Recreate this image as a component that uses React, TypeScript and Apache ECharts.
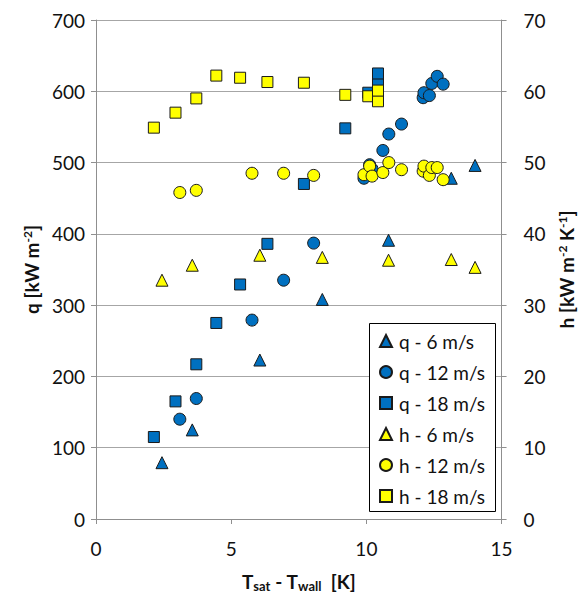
import React, { useEffect, useRef } from "react";
import * as echarts from "echarts";

// ---- data ----
const T6 = [2.44, 3.56, 6.06, 8.37, 10.82, 13.14, 14.02];
const q6 = [79, 125, 223, 308, 391, 478, 496];
const h6 = [33.5, 35.6, 37.0, 36.7, 36.3, 36.4, 35.3];

const T12 = [3.1, 3.71, 5.77, 6.94, 8.05, 9.91, 10.12, 10.21, 10.61, 10.83, 11.3, 12.1, 12.13, 12.33, 12.42, 12.62, 12.84];
const q12 = [140, 169, 279, 335, 387, 478, 497, 491, 517, 540, 554, 591, 598, 594, 611, 621, 610];
const h12 = [45.8, 46.1, 48.5, 48.5, 48.2, 48.3, 49.5, 48.1, 48.6, 50.0, 49.0, 48.8, 49.5, 48.2, 49.3, 49.3, 47.6];

const T18 = [2.14, 2.94, 3.71, 4.45, 5.33, 6.34, 7.69, 9.22, 10.07, 10.43, 10.43];
const q18 = [115, 165, 217, 275, 329, 386, 470, 548, 598, 610, 625];
const h18 = [54.9, 57.0, 59.0, 62.2, 61.9, 61.3, 61.2, 59.5, 59.3, 58.6, 60.1];

const seriesNames = ["q - 6 m/s", "q - 12 m/s", "q - 18 m/s", "h - 6 m/s", "h - 12 m/s", "h - 18 m/s"];
const xTicks = { min: 0, max: 15, interval: 5 };
const qTicks = { min: 0, max: 700, interval: 100 };
const hTicks = { min: 0, max: 70, interval: 10 };

const BLUE = "#0070C0";
const YELLOW = "#FFFF00";
const EDGE = "#1a1a1a";
const FONT = "Lato";

const pairs = (xs: number[], ys: number[]) => xs.map((x, i) => [x, ys[i]]);

export default function App() {
  const ref = useRef<HTMLDivElement>(null);
  useEffect(() => {
    if (!ref.current) return;
    const chart = echarts.init(ref.current, null, { renderer: "svg" });
    const mk = (name: string, xs: number[], ys: number[], symbol: string, size: number, color: string, yAxisIndex: number) => ({
      name,
      type: "scatter",
      yAxisIndex,
      symbol,
      symbolSize: size,
      data: pairs(xs, ys),
      itemStyle: { color, borderColor: EDGE, borderWidth: 1, opacity: 1 },
      emphasis: { disabled: true },
    });
    const axisLine = { show: true, lineStyle: { color: "#8f8f8f", width: 1 } };
    const axisTick = { show: true, length: 5, lineStyle: { color: "#8f8f8f" } };
    const labelStyle = { fontFamily: FONT, fontSize: 19, color: "#111" };
    const titleRich = {
      b: { fontFamily: FONT, fontSize: 19, fontWeight: "bold", color: "#111" },
      sup: { fontFamily: FONT, fontSize: 12, fontWeight: "bold", color: "#111", verticalAlign: "top", padding: [0, 0, 8, 0] },
      sub: { fontFamily: FONT, fontSize: 13, fontWeight: "bold", color: "#111", verticalAlign: "bottom", padding: [8, 0, 0, 0] },
    };
    chart.setOption({
      animation: false,
      grid: { left: 96, right: 76, top: 20, bottom: 77, containLabel: false },
      xAxis: {
        type: "value",
        ...xTicks,
        name: "{b|T}{sub|sat}{b| - T}{sub|wall}{b|  [K]}",
        nameLocation: "middle",
        nameGap: 52,
        nameTextStyle: { rich: titleRich },
        axisLine,
        axisTick,
        splitLine: { show: false },
        axisLabel: { ...labelStyle, margin: 20 },
      },
      yAxis: [
        {
          type: "value",
          position: "left",
          ...qTicks,
          name: "{b|q [kW m}{sup|-2}{b|]}",
          nameLocation: "middle",
          nameGap: 55,
          nameTextStyle: { rich: titleRich },
          axisLine,
          axisTick,
          splitLine: { show: true, lineStyle: { color: "#a6a6a6", width: 1 } },
          axisLabel: { ...labelStyle, margin: 11 },
        },
        {
          type: "value",
          position: "right",
          ...hTicks,
          name: "{b|h [kW m}{sup|-2}{b| K}{sup|-1}{b|]}",
          nameLocation: "middle",
          nameGap: 52,
          nameTextStyle: { rich: titleRich },
          axisLine,
          axisTick,
          splitLine: { show: false },
          axisLabel: { ...labelStyle, margin: 22 },
        },
      ],
      legend: {
        orient: "vertical",
        left: 379,
        top: 330,
        padding: 0,
        itemGap: 9,
        itemWidth: 12,
        itemHeight: 12,
        selectedMode: false,
        data: seriesNames,
        textStyle: { fontFamily: FONT, fontSize: 19, color: "#111", lineHeight: 22, padding: [0, 0, 0, 2] },
        z: 5,
      },
      graphic: [
        {
          type: "rect",
          z: 3,
          shape: { x: 369.5, y: 323.5, width: 126, height: 188 },
          style: { fill: "#fff", stroke: "#000", lineWidth: 1 },
        },
      ],
      series: [
        mk(seriesNames[0], T6, q6, "triangle", 12, BLUE, 0),
        mk(seriesNames[1], T12, q12, "circle", 12, BLUE, 0),
        mk(seriesNames[2], T18, q18, "rect", 11, BLUE, 0),
        mk(seriesNames[3], T6, h6, "triangle", 12, YELLOW, 1),
        mk(seriesNames[4], T12, h12, "circle", 12, YELLOW, 1),
        mk(seriesNames[5], T18, h18, "rect", 11, YELLOW, 1),
      ],
    });
    return () => chart.dispose();
  }, []);
  return <div ref={ref} style={{ position: "absolute", left: 0, top: 0, width: 584, height: 597 }} />;
}
